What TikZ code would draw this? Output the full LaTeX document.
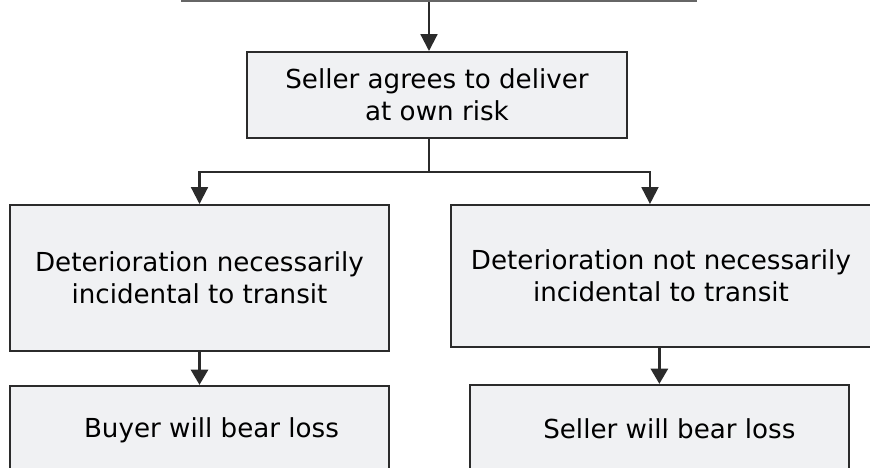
\documentclass[tikz,border=0pt]{standalone}
\usepackage{fontspec}
\setmainfont{DejaVu Sans}
\usepackage{tikz}
\usetikzlibrary{arrows.meta,positioning,calc}

\definecolor{boxfill}{HTML}{F0F1F3}
\definecolor{boxline}{HTML}{2B2B2B}

\begin{document}
\begin{tikzpicture}[node distance=0.825cm and 1.5cm,
	box/.style={draw=boxline, line width=1.4pt, fill=boxfill, align=center, inner sep=0pt, font=\fontsize{18.6}{23}\selectfont},
	thin_arrow/.style={draw=boxline, line width=1.5pt, -{Triangle[length=12pt, width=12pt]}},
	thick_arrow/.style={draw=boxline, line width=2.6pt, -{Triangle[length=11pt, width=12pt]}}]
	\useasboundingbox (0,0) rectangle (21.75,-11.7);
	\node [box, minimum width=9.5cm, minimum height=2.15cm](agree_node) at (10.925,-2.375) {Seller agrees to deliver\\at own risk};
	\node [box, draw=black!60, line width=2pt, minimum width=12.825cm, minimum height=1.5cm, above=1.225cm of agree_node, xshift=0.06cm](top_node) {};
	\node [box, minimum width=9.475cm, minimum height=3.65cm](nec_node) at (4.9875,-6.95) {Deterioration necessarily\\incidental to transit};
	\node [box, minimum width=10.5cm, minimum height=3.55cm, right=1.5cm of nec_node.north east, anchor=north west](notnec_node) {Deterioration not necessarily\\incidental to transit};
	\node [box, minimum width=9.475cm, minimum height=2.2cm, below=of nec_node](buyer_node) {\hspace*{0.6cm}Buyer will bear loss};
	\node [box, minimum width=9.475cm, minimum height=2.2cm, below=0.9cm of notnec_node, xshift=-0.04cm](seller_node) {\hspace*{0.5cm}Seller will bear loss};
	\coordinate (split) at ([xshift=-0.2cm, yshift=-0.825cm]agree_node.south);
	\draw [thin_arrow] ([xshift=-0.2cm]agree_node.north |- top_node.south) -- ([xshift=-0.2cm]agree_node.north);
	\draw [thin_arrow] ([xshift=-0.2cm]agree_node.south) -- (split) -| (nec_node.north);
	\draw [thin_arrow] (split) -| ([xshift=-0.275cm]notnec_node.north);
	\draw [thick_arrow] (nec_node.south) -- (buyer_node.north);
	\draw [thick_arrow] (notnec_node.south -| seller_node.north) -- (seller_node.north);
\end{tikzpicture}
\end{document}
